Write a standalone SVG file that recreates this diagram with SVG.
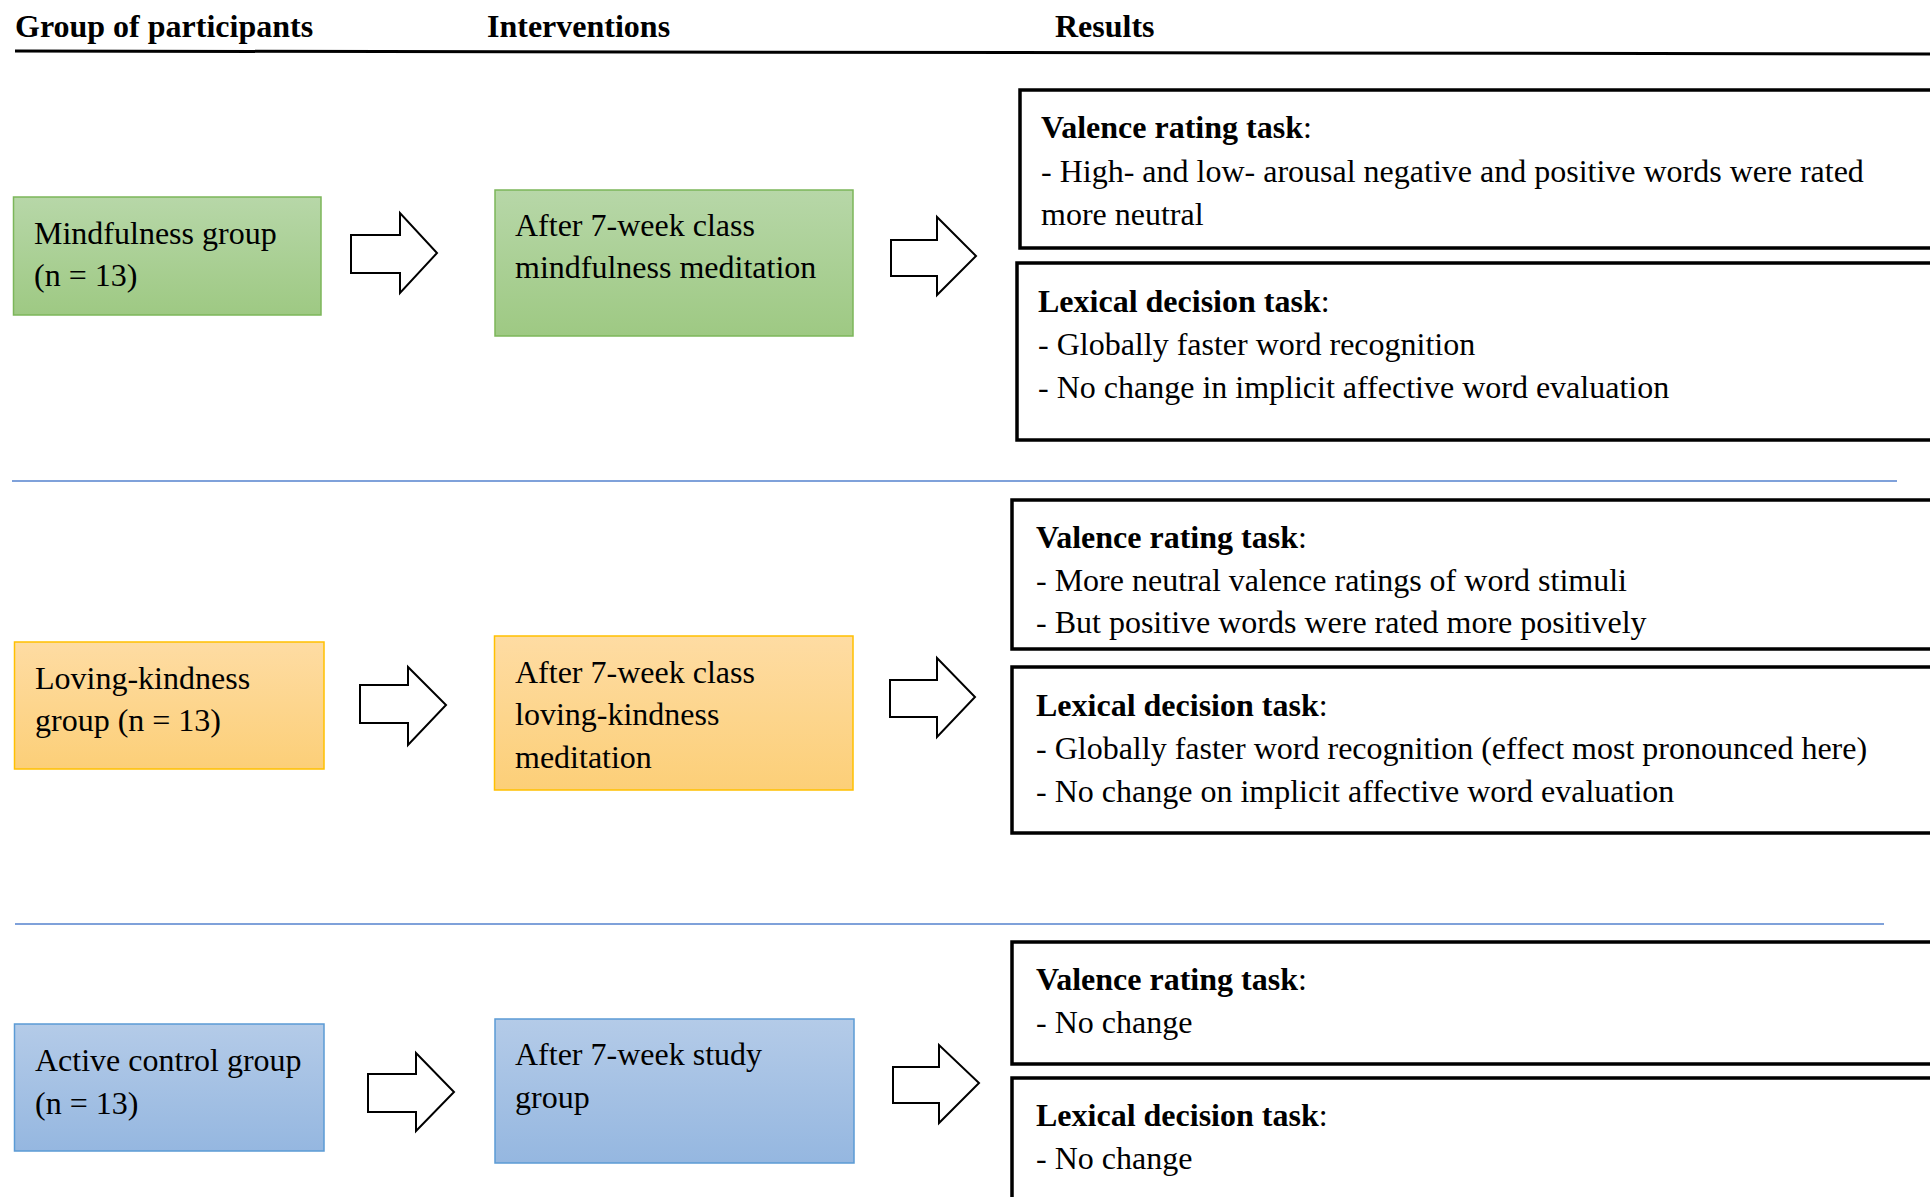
<svg xmlns="http://www.w3.org/2000/svg" width="1930" height="1197" viewBox="0 0 1930 1197">
<defs>
<linearGradient id="gGreen" x1="0" y1="0" x2="0" y2="1"><stop offset="0" stop-color="#b7d7a8"/><stop offset="1" stop-color="#9ec983"/></linearGradient>
<linearGradient id="gOrange" x1="0" y1="0" x2="0" y2="1"><stop offset="0" stop-color="#fedca3"/><stop offset="1" stop-color="#fccf78"/></linearGradient>
<linearGradient id="gBlue" x1="0" y1="0" x2="0" y2="1"><stop offset="0" stop-color="#b4cbe8"/><stop offset="1" stop-color="#95b7e0"/></linearGradient>
<style>
text{font-family:"Liberation Serif","Times New Roman",serif;font-size:32px;fill:#000}
.h{font-weight:bold}
.b{font-weight:bold}
.green{fill:url(#gGreen);stroke:#7cb65a;stroke-width:1.5}
.orange{fill:url(#gOrange);stroke:#ffc000;stroke-width:1.5}
.blue{fill:url(#gBlue);stroke:#5b9bd5;stroke-width:1.5}
.res{fill:#fff;stroke:#000;stroke-width:3.5}
.arrow{fill:#fff;stroke:#000;stroke-width:2;stroke-linejoin:miter}
.sep{stroke:#7fa1da;stroke-width:2}
</style>
</defs>
<rect width="1930" height="1197" fill="#fff"/>

<g id="header">
<text class="h" x="15" y="37">Group of participants</text>
<text class="h" x="487" y="37">Interventions</text>
<text class="h" x="1055" y="37">Results</text>
<line x1="15" y1="51" x2="1930" y2="54" stroke="#000" stroke-width="3"/>
</g>

<g id="separators">
<line class="sep" x1="12" y1="481" x2="1897" y2="481"/>
<line class="sep" x1="15" y1="924" x2="1884" y2="924"/>
</g>

<g id="group1">
<g id="mindfulness-group"><rect class="green" x="13.5" y="197" width="307.5" height="118"/>
<text x="34" y="244">Mindfulness group</text><text x="34" y="286">(n = 13)</text></g>
<g id="mindfulness-intervention"><rect class="green" x="495" y="190" width="358" height="146"/>
<text x="515" y="236">After 7-week class</text><text x="515" y="278">mindfulness meditation</text></g>
<g id="mindfulness-valence"><rect class="res" x="1020" y="90" width="950" height="158"/>
<text x="1041" y="138"><tspan class="b">Valence rating task</tspan>:</text>
<text x="1041" y="182">- High- and low- arousal negative and positive words were rated</text>
<text x="1041" y="225">more neutral</text></g>
<g id="mindfulness-lexical"><rect class="res" x="1017" y="263" width="950" height="177"/>
<text x="1038" y="312"><tspan class="b">Lexical decision task</tspan>:</text>
<text x="1038" y="355">- Globally faster word recognition</text>
<text x="1038" y="398">- No change in implicit affective word evaluation</text></g>
</g>

<g id="group2">
<g id="lk-group"><rect class="orange" x="14.5" y="642" width="309.5" height="127"/>
<text x="35" y="689">Loving-kindness</text><text x="35" y="731">group (n = 13)</text></g>
<g id="lk-intervention"><rect class="orange" x="494.5" y="636" width="358.5" height="154"/>
<text x="515" y="683">After 7-week class</text><text x="515" y="725">loving-kindness</text><text x="515" y="768">meditation</text></g>
<g id="lk-valence"><rect class="res" x="1012" y="500" width="950" height="149"/>
<text x="1036" y="548"><tspan class="b">Valence rating task</tspan>:</text>
<text x="1036" y="591">- More neutral valence ratings of word stimuli</text>
<text x="1036" y="633">- But positive words were rated more positively</text></g>
<g id="lk-lexical"><rect class="res" x="1012" y="667" width="950" height="166"/>
<text x="1036" y="716"><tspan class="b">Lexical decision task</tspan>:</text>
<text x="1036" y="759">- Globally faster word recognition (effect most pronounced here)</text>
<text x="1036" y="802">- No change on implicit affective word evaluation</text></g>
</g>

<g id="group3">
<g id="control-group"><rect class="blue" x="14.5" y="1024" width="309.5" height="127"/>
<text x="35" y="1071">Active control group</text><text x="35" y="1114">(n = 13)</text></g>
<g id="control-intervention"><rect class="blue" x="495" y="1019" width="359" height="144"/>
<text x="515" y="1065">After 7-week study</text><text x="515" y="1108">group</text></g>
<g id="control-valence"><rect class="res" x="1012" y="942" width="950" height="122"/>
<text x="1036" y="990"><tspan class="b">Valence rating task</tspan>:</text>
<text x="1036" y="1033">- No change</text></g>
<g id="control-lexical"><rect class="res" x="1012" y="1078" width="950" height="160"/>
<text x="1036" y="1126"><tspan class="b">Lexical decision task</tspan>:</text>
<text x="1036" y="1169">- No change</text></g>
</g>

<g id="connectors">
<path class="arrow" d="M351,235 H400 V213 L437,253 L400,293 V273 H351 Z"/>
<path class="arrow" d="M891,240 H937 V217 L976,256 L937,295 V276 H891 Z"/>
<path class="arrow" d="M360,685 H408 V667 L446,705 L408,745 V723 H360 Z"/>
<path class="arrow" d="M890,680 H937 V658 L975,697 L937,737 V717 H890 Z"/>
<path class="arrow" d="M368,1074 H416 V1053 L454,1092 L416,1131 V1112 H368 Z"/>
<path class="arrow" d="M893,1067 H939 V1045 L979,1083 L939,1123 V1103 H893 Z"/>
</g>
</svg>
